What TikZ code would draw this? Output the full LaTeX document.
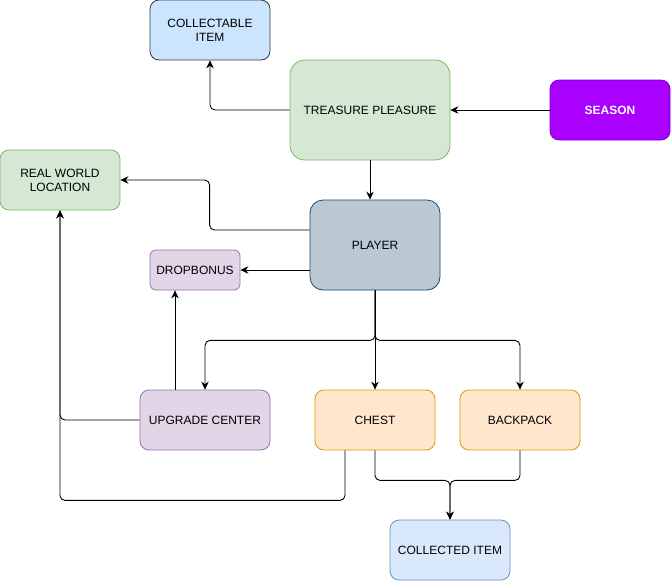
\documentclass[tikz,border=0pt]{standalone}
\usepackage{fontspec}
\setmainfont{Liberation Sans}
\usepackage[dvipsnames]{xcolor}
\usetikzlibrary{positioning}
\usetikzlibrary{calc}
\usetikzlibrary{arrows.meta}
\definecolor{blueFill}{HTML}{CCE5FF}
\definecolor{blueLine}{HTML}{36393D}
\definecolor{greenFill}{HTML}{D5E8D4}
\definecolor{greenLine}{HTML}{82B366}
\definecolor{violetFill}{HTML}{AA00FF}
\definecolor{violetLine}{HTML}{7700CC}
\definecolor{slateFill}{HTML}{BAC8D3}
\definecolor{slateLine}{HTML}{23445D}
\definecolor{lilacFill}{HTML}{E1D5E7}
\definecolor{lilacLine}{HTML}{9673A6}
\definecolor{orangeFill}{HTML}{FFE6CC}
\definecolor{orangeLine}{HTML}{D79B00}
\definecolor{skyFill}{HTML}{DAE8FC}
\definecolor{skyLine}{HTML}{6C8EBF}

\begin{document}
\begin{tikzpicture}[x=1pt,y=-1pt,>={Stealth[length=8pt,width=7.5pt]},
	box/.style={draw, line width=0.8pt, align=center, inner sep=0pt, font=\fontsize{12}{14}\selectfont, text=black},
	link/.style={->, line width=0.9pt, black, rounded corners=5pt}]
				\useasboundingbox (0,0) rectangle (671,581);
				
				% draw boxes
				\node[box, fill=blueFill, draw=blueLine, rounded corners=9pt, minimum width=120pt, minimum height=60pt] (collectable) at (210,30) {COLLECTABLE\\ITEM};
				\node[box, fill=greenFill, draw=greenLine, rounded corners=15pt, minimum width=160pt, minimum height=100pt] (treasure) at (370,110) {TREASURE PLEASURE};
				\node[box, fill=violetFill, draw=violetLine, rounded corners=9pt, minimum width=120pt, minimum height=60pt, text=white, font=\fontsize{12}{14}\selectfont\bfseries] (season) at (610,110) {SEASON};
				\node[box, fill=greenFill, draw=greenLine, rounded corners=9pt, minimum width=120pt, minimum height=60pt] (realworld) at (60,180) {REAL WORLD\\LOCATION};
				\node[box, fill=slateFill, draw=slateLine, rounded corners=13pt, minimum width=130pt, minimum height=90pt] (player) at (375,245) {PLAYER};
				\node[box, fill=lilacFill, draw=lilacLine, rounded corners=6pt, minimum width=90pt, minimum height=40pt] (dropbonus) at (195,270) {DROPBONUS};
				\node[box, fill=lilacFill, draw=lilacLine, rounded corners=9pt, minimum width=130pt, minimum height=60pt] (upgrade) at (205,420) {UPGRADE CENTER};
				\node[box, fill=orangeFill, draw=orangeLine, rounded corners=9pt, minimum width=120pt, minimum height=60pt] (chest) at (375,420) {CHEST};
				\node[box, fill=orangeFill, draw=orangeLine, rounded corners=9pt, minimum width=120pt, minimum height=60pt] (backpack) at (520,420) {BACKPACK};
				\node[box, fill=skyFill, draw=skyLine, rounded corners=9pt, minimum width=120pt, minimum height=60pt] (collected) at (450,550) {COLLECTED ITEM};
				
				% draw links from the top
				\draw[link] (treasure.west) -| (collectable.south);
				\draw[link] (season.west) -- (treasure.east);
				\draw[link] (treasure.south) -- (treasure.south |- player.north);
				
				% draw links from player
				\draw[link] ([yshift=15pt]player.west) -- ++(-100,0) |- (realworld.east);
				\draw[link] (player.west |- dropbonus.east) -- (dropbonus.east);
				\draw[link] (player.south) -- ++(0,50) -| (upgrade.north);
				\draw[link] (player.south) -- (chest.north);
				\draw[link] (player.south) -- ++(0,50) -| (backpack.north);
				
				% draw links from upgrade center and chest
				\draw[link] ([xshift=-30pt]upgrade.north) -- ([xshift=-30pt]upgrade.north |- dropbonus.south);
				\draw[link] (upgrade.west) -| (realworld.south);
				\draw[link] ([xshift=-30pt]chest.south) -- ++(0,50) -| (realworld.south);
				
				% draw links to collected item
				\draw[link] (chest.south) -- ++(0,30) -| (collected.north);
				\draw[link] (backpack.south) -- ++(0,30) -| (collected.north);
			\end{tikzpicture}
\end{document}
